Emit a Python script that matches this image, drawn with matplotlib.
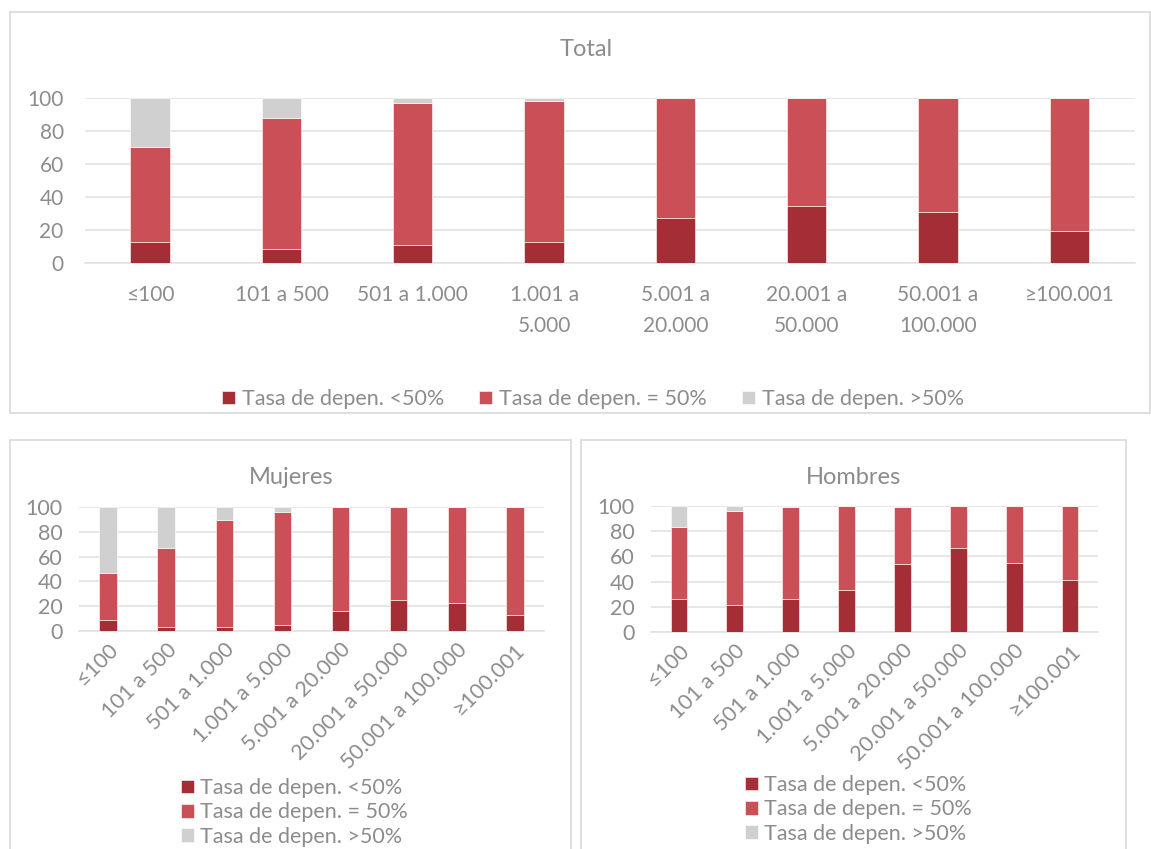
import matplotlib

matplotlib.use("Agg")

import matplotlib.pyplot as plt
import numpy as np
from matplotlib.patches import Rectangle

W, H = 1151, 849

categories_total = ["≤100", "101 a 500", "501 a 1.000", "1.001 a\n5.000", "5.001 a\n20.000",
                    "20.001 a\n50.000", "50.001 a\n100.000", "≥100.001"]
categories = ["≤100", "101 a 500", "501 a 1.000", "1.001 a 5.000", "5.001 a 20.000",
              "20.001 a 50.000", "50.001 a 100.000", "≥100.001"]
series_names = ["Tasa de depen. <50%", "Tasa de depen. = 50%", "Tasa de depen. >50%"]

# segment values in percent
total_low = [12.8, 8.5, 10.8, 12.8, 27.4, 34.3, 31.1, 19.3]
total_eq = [57.7, 79.1, 85.9, 85.2, 72.6, 65.7, 68.9, 80.7]
total_high = [29.5, 12.4, 3.3, 2.0, 0.0, 0.0, 0.0, 0.0]

mujeres_low = [9.0, 3.5, 3.3, 5.2, 15.8, 25.0, 22.3, 13.3]
mujeres_eq = [38.0, 63.6, 86.6, 90.7, 84.2, 75.0, 77.7, 86.7]
mujeres_high = [53.0, 32.9, 10.1, 4.1, 0.0, 0.0, 0.0, 0.0]

hombres_low = [26.0, 21.8, 26.0, 33.2, 54.1, 66.6, 54.9, 41.4]
hombres_eq = [57.0, 74.0, 73.2, 66.5, 45.4, 33.4, 45.1, 58.6]
hombres_high = [17.0, 4.2, 0.8, 0.3, 0.5, 0.0, 0.0, 0.0]

COLORS = ["#A52E36", "#CB4F56", "#D0D0D0"]
TEXT = "#8c8c8c"
GRID = "#e3e3e3"

plt.rcParams["font.family"] = ["Lato", "DejaVu Sans"]

fig = plt.figure(figsize=(W / 100, H / 100), dpi=100)


def px_axes(x0, y0, x1, y1):
    # pixel box (top-left origin) -> figure axes
    return fig.add_axes([x0 / W, 1 - y1 / H, (x1 - x0) / W, (y1 - y0) / H])


def frame(x0, y0, x1, y1):
    fig.patches.append(Rectangle((x0 / W, 1 - y1 / H), (x1 - x0) / W, (y1 - y0) / H,
                                 transform=fig.transFigure, fill=False,
                                 edgecolor="#d9d9d9", linewidth=1.2))


def stacked(ax, labels, low, eq, high, fontsize, rotation=0):
    x = np.arange(len(labels))
    bottom = np.zeros(len(labels))
    for values, color, name in zip([low, eq, high], COLORS, series_names):
        ax.bar(x, values, 0.3, bottom=bottom, color=color, edgecolor="white",
               linewidth=0.4, label=name, zorder=3)
        bottom += np.array(values)
    ax.set_xlim(-0.5, len(labels) - 0.5)
    ax.set_ylim(0, 100)
    ax.set_yticks(range(0, 101, 20))
    ax.grid(axis="y", color=GRID, linewidth=1.2, zorder=0)
    for side in ["top", "right", "left"]:
        ax.spines[side].set_visible(False)
    ax.spines["bottom"].set_color(GRID)
    ax.spines["bottom"].set_linewidth(1.2)
    ax.tick_params(length=0, colors=TEXT, labelsize=fontsize)
    ax.set_xticks(x)
    if rotation:
        ax.set_xticklabels(labels, rotation=rotation, ha="right", rotation_mode="anchor")
    else:
        ax.set_xticklabels(labels, linespacing=1.65)


def column_legend(handles, labs, x, y):
    fig.legend(handles, labs, loc="upper left", bbox_to_anchor=(x / W, 1 - y / H), ncol=1,
               frameon=False, fontsize=15.5, labelcolor=TEXT, handlelength=0.6,
               handleheight=0.6, handletextpad=0.3, labelspacing=0.2, borderaxespad=0,
               borderpad=0)


# top panel
frame(10, 12, 1150, 413)
ax_t = px_axes(84.5, 98, 1135, 263)
stacked(ax_t, categories_total, total_low, total_eq, total_high, 15)
ax_t.tick_params(axis="x", pad=16)
ax_t.tick_params(axis="y", pad=15)
fig.text(586 / W, 1 - 50 / H, "Total", ha="center", va="center", color=TEXT, fontsize=17)
handles, labs = ax_t.get_legend_handles_labels()
fig.legend(handles, labs, loc="center", bbox_to_anchor=(593 / W, 1 - 399 / H), ncol=3,
           frameon=False, fontsize=15.5, labelcolor=TEXT, handlelength=0.6, handleheight=0.6,
           handletextpad=0.35, columnspacing=1.6)

# bottom left panel
frame(10, 440, 571, 860)
ax_m = px_axes(79, 507, 544, 631)
stacked(ax_m, categories, mujeres_low, mujeres_eq, mujeres_high, 15.5, rotation=45)
ax_m.tick_params(axis="y", pad=12)
ax_m.tick_params(axis="x", pad=6)
fig.text(291 / W, 1 - 478 / H, "Mujeres", ha="center", va="center", color=TEXT, fontsize=17)
column_legend(handles, labs, 181, 778)

# bottom right panel
frame(581, 440, 1126, 860)
ax_h = px_axes(651, 506, 1098, 632)
stacked(ax_h, categories, hombres_low, hombres_eq, hombres_high, 15.5, rotation=45)
ax_h.tick_params(axis="y", pad=12)
ax_h.tick_params(axis="x", pad=6)
fig.text(853 / W, 1 - 478 / H, "Hombres", ha="center", va="center", color=TEXT, fontsize=17)
column_legend(handles, labs, 745, 775)

fig.savefig("out.png", dpi=100)
plt.close(fig)
